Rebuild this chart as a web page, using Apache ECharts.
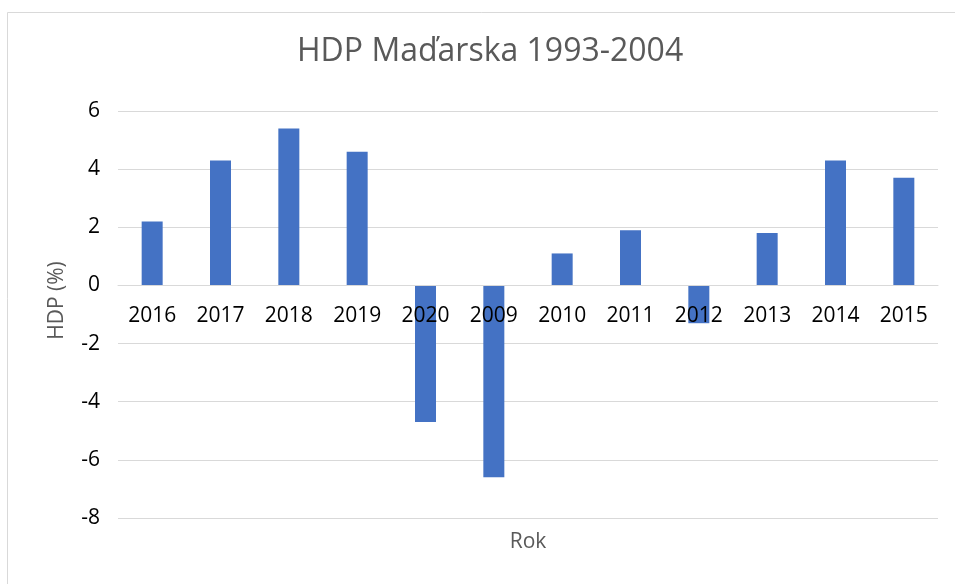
<!DOCTYPE html>
<html>
<head>
<meta charset="utf-8">
<title>HDP Maďarska</title>
<script src="https://cdn.jsdelivr.net/npm/echarts@6/dist/echarts.min.js"></script>
<style>
  html, body { margin: 0; padding: 0; background: #ffffff; }
  #chart { width: 955px; height: 584px; }
</style>
</head>
<body>
<div id="chart"></div>
<script>
// roky v poradí ako v grafe
const roky = ['2016', '2017', '2018', '2019', '2020', '2009', '2010', '2011', '2012', '2013', '2014', '2015'];
// rast HDP v %
const hdp = [2.2, 4.3, 5.4, 4.6, -4.7, -6.6, 1.1, 1.9, -1.3, 1.8, 4.3, 3.7];
const yTicks = [-8, -6, -4, -2, 0, 2, 4, 6];

const font = '"Open Sans", "Noto Sans", sans-serif';
const chart = echarts.init(document.getElementById('chart'));

// os X leží na nule – posun od spodného okraja mriežky
const gridTop = 111, gridBottom = 66;
const plotH = 584 - gridTop - gridBottom;
const yMin = yTicks[0], yMax = yTicks[yTicks.length - 1];
const zeroShift = plotH * (0 - yMin) / (yMax - yMin);

chart.setOption({
    backgroundColor: '#ffffff',
    animation: false,
    title: {
        text: 'HDP Maďarska 1993-2004',
        left: 292,
        top: 31,
        textStyle: {
            fontFamily: font,
            fontSize: 32,
            fontWeight: 'normal',
            color: '#595959'
        }
    },
    graphic: [{
        type: 'rect',
        shape: { x: 7.5, y: 12.5, width: 1000, height: 1000 },
        style: { fill: 'none', stroke: '#d9d9d9', lineWidth: 1 },
        silent: true
    }],
    grid: {
        left: 118,
        right: 17,
        top: gridTop,
        bottom: gridBottom,
        outerBoundsMode: 'none'
    },
    xAxis: {
        type: 'category',
        data: roky,
        offset: -zeroShift,
        z: 5,
        name: 'Rok',
        nameLocation: 'middle',
        nameGap: 246,
        nameTextStyle: { fontFamily: font, fontSize: 21, color: '#595959' },
        axisLine: { onZero: false, lineStyle: { color: '#d9d9d9', width: 1 } },
        axisTick: { show: false },
        axisLabel: {
            margin: 20,
            fontFamily: font,
            fontSize: 21,
            color: '#000000'
        }
    },
    yAxis: {
        type: 'value',
        min: yMin,
        max: yMax,
        interval: 2,
        name: 'HDP (%)',
        nameLocation: 'middle',
        nameRotate: 90,
        nameGap: 50,
        nameTextStyle: { fontFamily: font, fontSize: 21, color: '#595959', padding: [0, 0, 0, 28] },
        axisLine: { show: false },
        axisTick: { show: false },
        axisLabel: {
            margin: 18,
            fontFamily: font,
            fontSize: 21,
            color: '#000000'
        },
        splitLine: { lineStyle: { color: '#d9d9d9', width: 1 } }
    },
    series: [{
        type: 'bar',
        data: hdp,
        barWidth: 21,
        z: 2,
        itemStyle: { color: '#4472c4' }
    }]
});
</script>
</body>
</html>
